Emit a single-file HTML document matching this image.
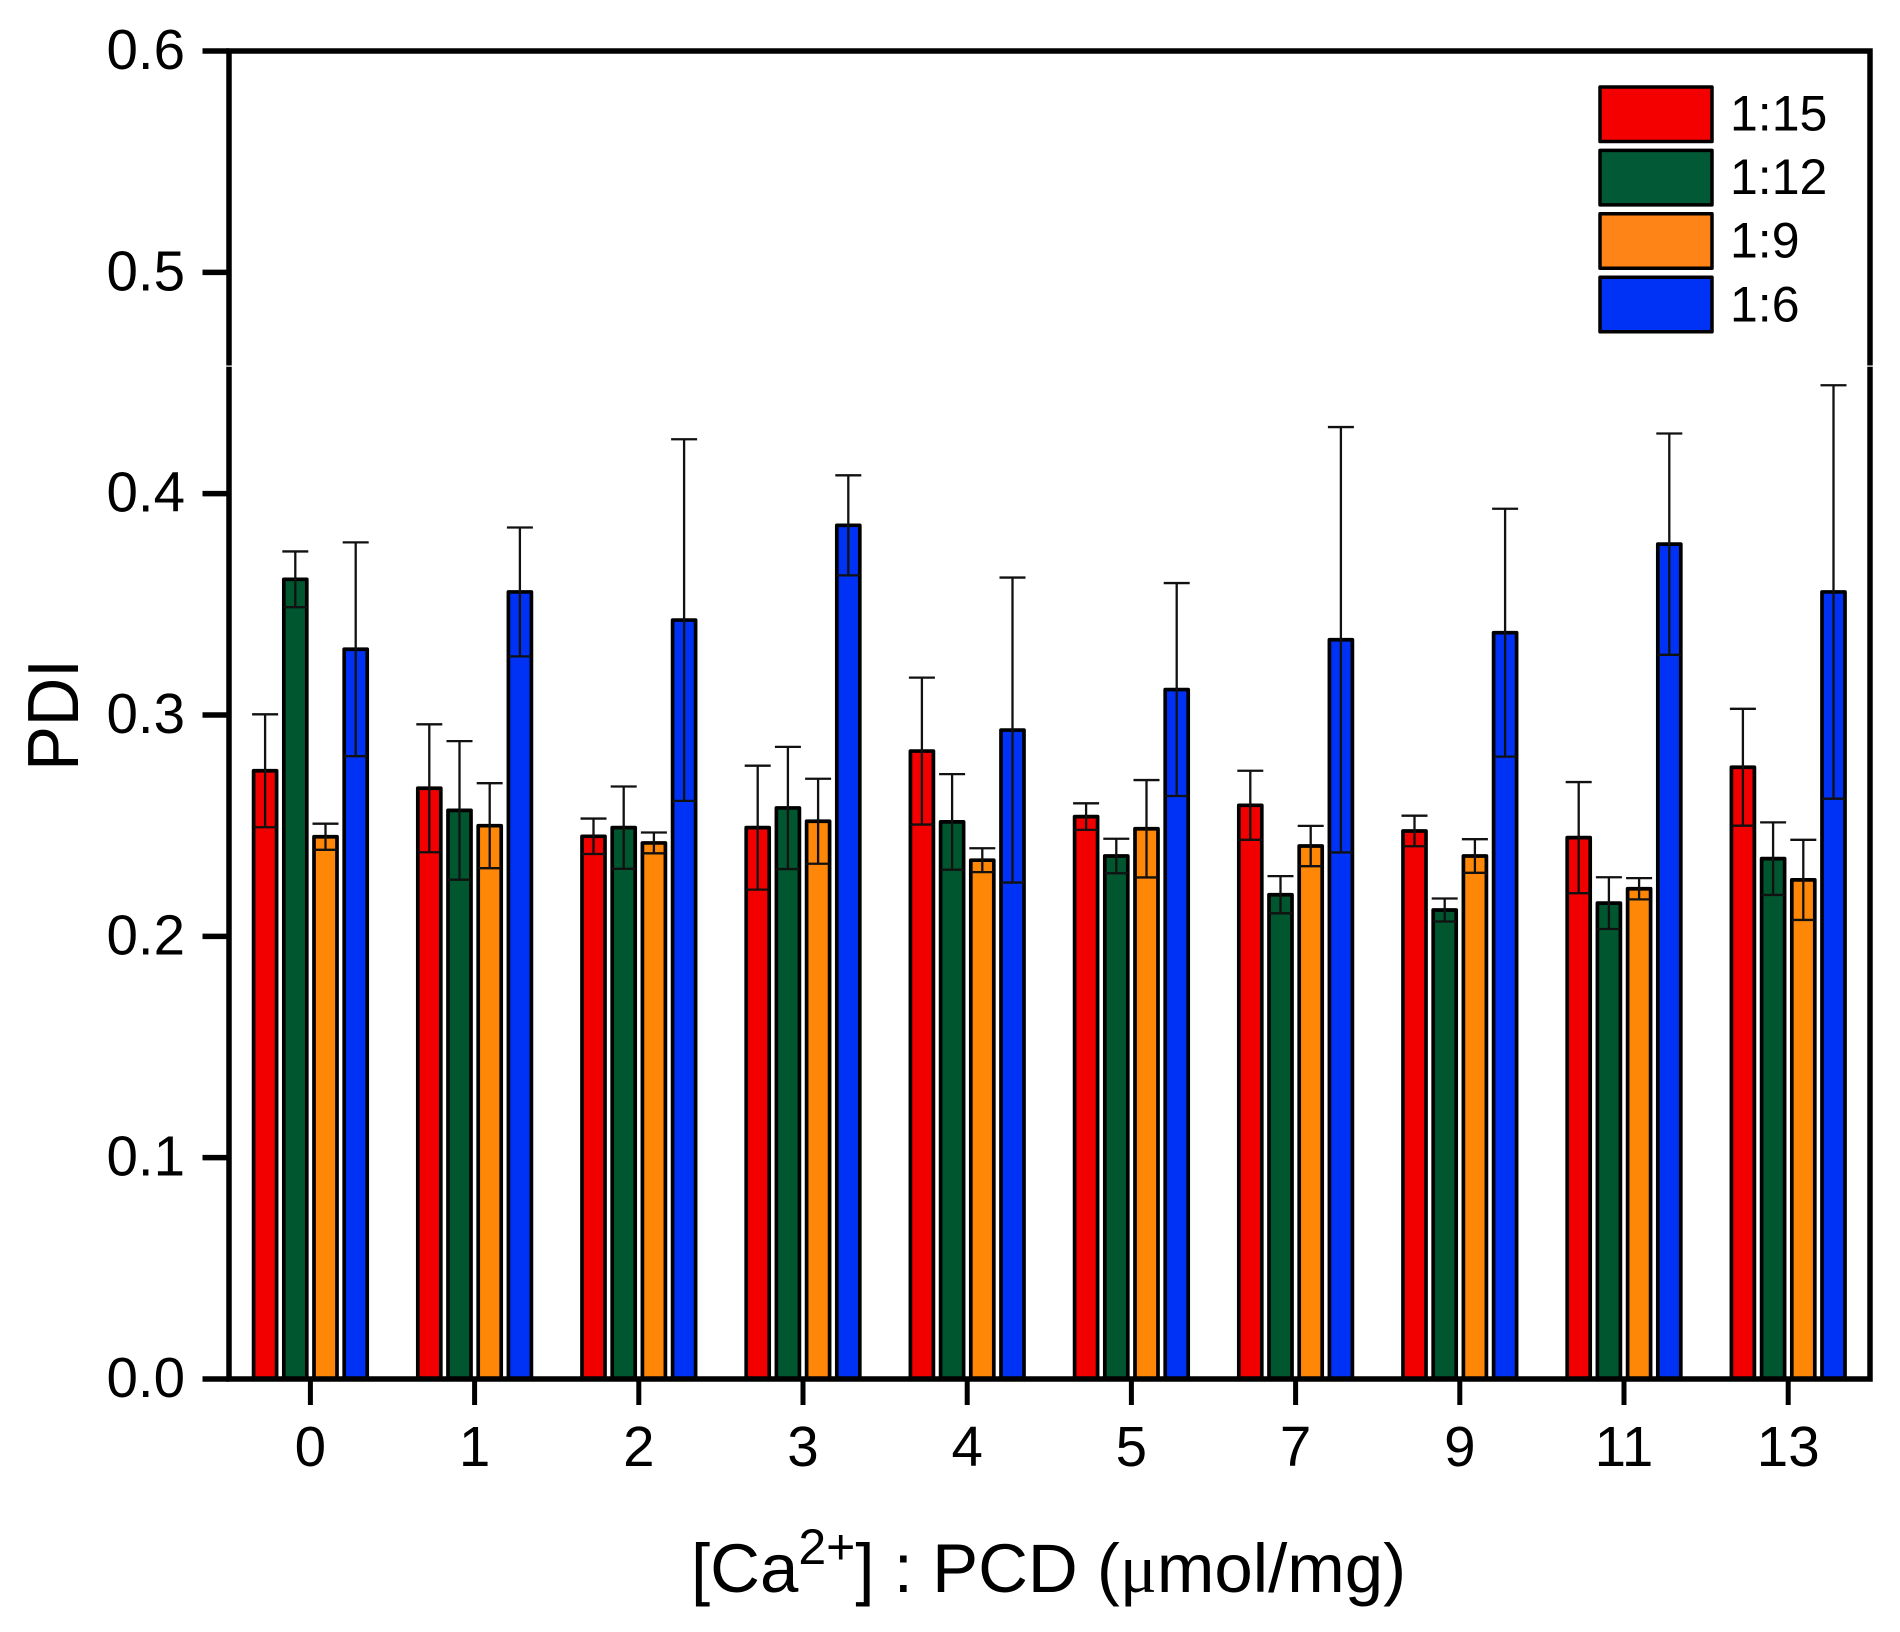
<!DOCTYPE html>
<html lang="en">
<head>
<meta charset="utf-8">
<title>PDI vs [Ca2+] : PCD</title>
<style>
html,body{margin:0;padding:0;background:#fff;width:1900px;height:1632px;overflow:hidden}
svg{display:block;font-family:"Liberation Sans",Arial,sans-serif;fill:#000}
</style>
</head>
<body>
<svg id="chart" xmlns="http://www.w3.org/2000/svg" width="1900" height="1632" viewBox="0 0 1900 1632">
  <rect x="0" y="0" width="1900" height="1632" fill="#ffffff"/>
  <g id="bars"></g>
  <g id="axes"></g>
  <g id="legend"></g>
  <text transform="translate(78,715) rotate(-90) scale(0.93,1)" text-anchor="middle" font-size="72">PDI</text>
  <text x="691" y="1592" font-size="69">[Ca<tspan dy="-28" font-size="50">2+</tspan><tspan dy="28">] : PCD (</tspan><tspan font-family="'Liberation Serif',serif">μ</tspan>mol/mg)</text>
</svg>
<script>
const categories = ['0','1','2','3','4','5','7','9','11','13'];
const seriesNames = ['1:15','1:12','1:9','1:6'];
const seriesColors = ['#f20000','#00562f','#ff8708','#0032f5'];
const yTicks = [0.0,0.1,0.2,0.3,0.4,0.5,0.6];

const values1to15 = [0.2748,0.2669,0.2452,0.2491,0.2837,0.2541,0.2592,0.2476,0.2446,0.2764];
const values1to12 = [0.3613,0.2569,0.2491,0.2580,0.2517,0.2363,0.2188,0.2119,0.2150,0.2351];
const values1to9  = [0.2450,0.2500,0.2422,0.2520,0.2344,0.2486,0.2408,0.2363,0.2215,0.2255];
const values1to6  = [0.3297,0.3556,0.3429,0.3857,0.2932,0.3115,0.3340,0.3372,0.3772,0.3556];

const errors1to15 = [0.0255,0.0289,0.0080,0.0280,0.0332,0.0060,0.0156,0.0069,0.0251,0.0264];
const errors1to12 = [0.0126,0.0313,0.0186,0.0276,0.0216,0.0078,0.0084,0.0052,0.0117,0.0164];
const errors1to9  = [0.0059,0.0192,0.0047,0.0192,0.0054,0.0220,0.0091,0.0076,0.0048,0.0181];
const errors1to6  = [0.0483,0.0291,0.0817,0.0226,0.0689,0.0481,0.0961,0.0560,0.0500,0.0934];

const allValues = [values1to15,values1to12,values1to9,values1to6];
const allErrors = [errors1to15,errors1to12,errors1to9,errors1to6];

const NS = 'http://www.w3.org/2000/svg';
const plot = {left:229,right:1870,top:51,bottom:1379};
const yMax = 0.6;
const groupStart = 310.4, groupStep = 164.2, barStep = 30.2, barW = 23;

function yScale(v){ return plot.bottom - (v / yMax) * (plot.bottom - plot.top); }
function xScale(i){ return groupStart + i * groupStep; }
function barCenter(i,s){ return xScale(i) + (s - (seriesNames.length - 1) / 2) * barStep; }

function make(tag, attrs, parent){
  const el = document.createElementNS(NS, tag);
  for (const k in attrs) el.setAttribute(k, attrs[k]);
  parent.appendChild(el);
  return el;
}

const barsG = document.getElementById('bars');
categories.forEach(function(cat,i){
  const g = make('g', {}, barsG);
  
  
  seriesNames.forEach(function(name,s){
    const v = allValues[s][i], e = allErrors[s][i], cx = barCenter(i,s);
    const bar = make('rect', {x:cx-barW/2, y:yScale(v), width:barW, height:yScale(0)-yScale(v), fill:seriesColors[s], stroke:'#000', 'stroke-width':3.7, 'stroke-linejoin':'round'}, g);
    
    
    const hi = yScale(v+e), lo = yScale(v-e);
    const path = 'M'+cx+' '+hi+'V'+lo+'M'+(cx-13)+' '+hi+'H'+(cx+13)+'M'+(cx-barW/2)+' '+lo+'H'+(cx+barW/2);
    const err = make('path', {d:path, fill:'none', stroke:'#111', 'stroke-width':2.3}, g);
    
    
  });
});

const axesG = document.getElementById('axes');
const frame = make('rect', {x:plot.left, y:plot.top, width:plot.right-plot.left, height:plot.bottom-plot.top, fill:'none', stroke:'#000', 'stroke-width':5.5}, axesG);


const gapL = make('rect', {x:plot.left-3, y:365.5, width:6, height:1.2, fill:'#fff'}, axesG);


const gapR = make('rect', {x:plot.right-3, y:365.5, width:6, height:1.2, fill:'#fff'}, axesG);



yTicks.forEach(function(t){
  const y = yScale(t);
  const tick = make('line', {x1:202.5, x2:plot.left, y1:y, y2:y, stroke:'#000', 'stroke-width':5.5}, axesG);
  
  
  const lab = make('text', {x:185, y:y+18, 'text-anchor':'end', 'font-size':56.5}, axesG);
  
  
  lab.textContent = t.toFixed(1);
});

categories.forEach(function(cat,i){
  const x = xScale(i);
  const tick = make('line', {x1:x, x2:x, y1:plot.bottom, y2:1405, stroke:'#000', 'stroke-width':5}, axesG);
  
  
  const lab = make('text', {x:x, y:1466, 'text-anchor':'middle', 'font-size':56.5}, axesG);
  
  
  lab.textContent = cat;
});

const legendG = document.getElementById('legend');
const legendColors = ['#f50000','#015a35','#ff8417','#0032f5'];
seriesNames.forEach(function(name,s){
  const top = 87 + s * 63.4;
  const swatch = make('rect', {x:1600, y:top, width:112, height:54.5, fill:legendColors[s], stroke:'#000', 'stroke-width':3.5, 'stroke-linejoin':'round'}, legendG);
  
  
  const lab = make('text', {x:1730, y:130.5 + s * 63.6, 'font-size':50}, legendG);
  
  
  lab.textContent = name;
});
</script>
</body>
</html>
